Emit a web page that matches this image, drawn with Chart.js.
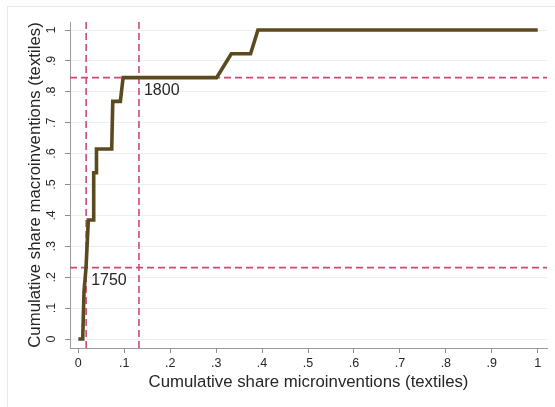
<!DOCTYPE html>
<html>
<head>
<meta charset="utf-8">
<script src="https://cdn.jsdelivr.net/npm/chart.js@4/dist/chart.umd.min.js"></script>
<style>
  html, body { margin: 0; padding: 0; background: #ffffff; }
  #wrap { position: relative; width: 555px; height: 407px; }
</style>
</head>
<body>
<div id="wrap"><canvas id="c" width="555" height="407"></canvas></div>
<script>
// ---- data ----
const microShare = [0, 0.0096, 0.0124, 0.0168, 0.0218, 0.0327, 0.0335, 0.0385, 0.0395, 0.0727, 0.075, 0.0915, 0.0975, 0.301, 0.333, 0.375, 0.391, 1];
const macroShare = [0, 0, 0.154, 0.231, 0.385, 0.385, 0.538, 0.538, 0.615, 0.615, 0.769, 0.769, 0.846, 0.846, 0.923, 0.923, 1, 1];
const refMicro = [0.017, 0.132];       // vertical dashed lines
const refMacro = [0.231, 0.846];       // horizontal dashed lines
const refLabels = ['1750', '1800'];
const xTickValues = [0, 0.1, 0.2, 0.3, 0.4, 0.5, 0.6, 0.7, 0.8, 0.9, 1];
const xTickLabels = ['0', '.1', '.2', '.3', '.4', '.5', '.6', '.7', '.8', '.9', '1'];
const yTickValues = [0, 0.1, 0.2, 0.3, 0.4, 0.5, 0.6, 0.7, 0.8, 0.9, 1];
const yTickLabels = ['0', '.1', '.2', '.3', '.4', '.5', '.6', '.7', '.8', '.9', '1'];
const xTitle = 'Cumulative share microinventions (textiles)';
const yTitle = 'Cumulative share macroinventions (textiles)';

const X_MIN = -0.0181, X_MAX = 1.0202, Y_MIN = -0.0291, Y_MAX = 1.0259;
const FONT = '"Liberation Sans", Arial, sans-serif';
const TXT = '#262626';
const DASH_COLOR = '#cf4a72';

const curve = microShare.map((x, i) => ({x: x, y: macroShare[i]}));
const datasets = [];
refMacro.forEach(v => datasets.push({
  data: [{x: X_MIN, y: v}, {x: X_MAX, y: v}],
  showLine: true, pointRadius: 0, borderColor: DASH_COLOR, borderWidth: 1.6,
  borderDash: [7, 4], tension: 0, order: 2
}));
refMicro.forEach(v => datasets.push({
  data: [{x: v, y: Y_MIN}, {x: v, y: Y_MAX}],
  showLine: true, pointRadius: 0, borderColor: DASH_COLOR, borderWidth: 1.6,
  borderDash: [7, 4], tension: 0, order: 2
}));
datasets.push({
  data: curve, showLine: true, pointRadius: 0, borderColor: '#5a4a1e',
  borderWidth: 3.6, tension: 0, borderJoinStyle: 'miter', borderCapStyle: 'butt', order: 1
});

const framePlugin = {
  id: 'frame',
  beforeDraw(chart) {
    const ctx = chart.ctx;
    ctx.save();
    ctx.fillStyle = '#ffffff';
    ctx.fillRect(0, 0, chart.width, chart.height);
    ctx.strokeStyle = '#e4eaee';
    ctx.lineWidth = 1;
    ctx.strokeRect(7.5, 6.5, 600, 500);
    ctx.restore();
  }
};

const labelPlugin = {
  id: 'reflabels',
  afterDatasetsDraw(chart) {
    const ctx = chart.ctx;
    const xs = chart.scales.x, ys = chart.scales.y;
    ctx.save();
    ctx.font = '16px ' + FONT;
    ctx.fillStyle = TXT;
    ctx.textAlign = 'left';
    ctx.textBaseline = 'middle';
    refLabels.forEach((t, i) => {
      const px = xs.getPixelForValue(refMicro[i]);
      const py = ys.getPixelForValue(refMacro[i]);
      ctx.fillText(t, px + 5, py + 13);
    });
    ctx.restore();
  }
};

new Chart(document.getElementById('c'), {
  type: 'scatter',
  data: { datasets: datasets },
  options: {
    responsive: false,
    animation: false,
    layout: { padding: { top: 22, right: 8, left: 0, bottom: 0 } },
    plugins: { legend: { display: false }, tooltip: { enabled: false } },
    scales: {
      x: {
        type: 'linear', position: 'bottom', min: X_MIN, max: X_MAX,
        afterBuildTicks: s => { s.ticks = xTickValues.map(v => ({value: v})); },
        afterFit: s => { s.height = 59; },
        ticks: {
          autoSkip: false, maxRotation: 0, minRotation: 0, padding: 3,
          color: TXT, font: { family: FONT, size: 12.5 },
          callback: (v, i) => xTickLabels[i]
        },
        grid: { drawOnChartArea: false, drawTicks: true, tickLength: 5, tickColor: '#8c8c8c', tickWidth: 1 },
        border: { display: true, color: '#9a9a9a', width: 1 },
        title: { display: true, text: xTitle, color: TXT, font: { family: FONT, size: 16.8 }, padding: { top: 0, bottom: 15 } }
      },
      y: {
        type: 'linear', position: 'left', min: Y_MIN, max: Y_MAX,
        afterBuildTicks: s => { s.ticks = yTickValues.map(v => ({value: v})); },
        afterFit: s => { s.width = 70; },
        ticks: {
          autoSkip: false, minRotation: 90, maxRotation: 90, crossAlign: 'center', padding: 8,
          color: TXT, font: { family: FONT, size: 12.5 },
          callback: (v, i) => yTickLabels[i]
        },
        grid: { drawOnChartArea: true, color: '#eaeff2', lineWidth: 1, drawTicks: true, tickLength: 5, tickColor: '#8c8c8c', tickWidth: 1 },
        border: { display: true, color: '#9a9a9a', width: 1 },
        title: { display: true, text: yTitle, color: TXT, font: { family: FONT, size: 16.8 }, padding: { top: 25, bottom: 0 } }
      }
    }
  },
  plugins: [framePlugin, labelPlugin]
});
</script>
</body>
</html>
